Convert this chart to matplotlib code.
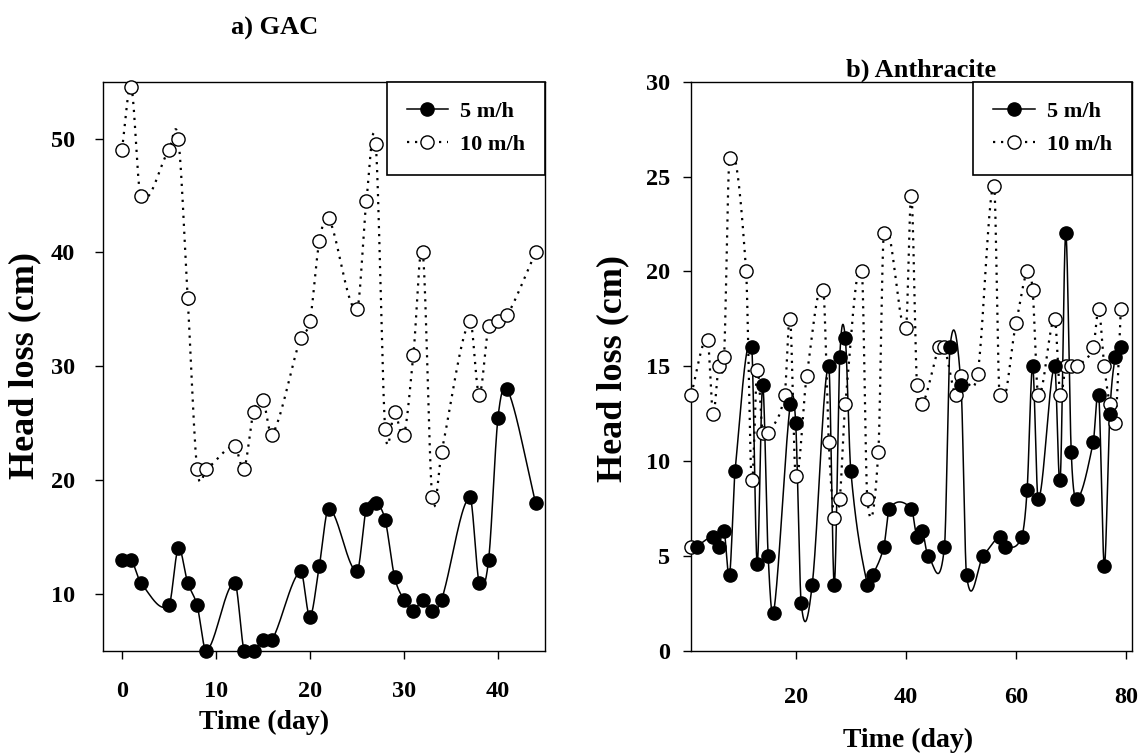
import numpy as np
import matplotlib
matplotlib.use('Agg')
import matplotlib.pyplot as plt
from matplotlib.lines import Line2D

# ---- data ----
# a) GAC
gac_day = [0, 1, 2, 5, 6, 7, 8, 9, 12, 13, 14, 15, 16, 19, 20, 21, 22, 25, 26, 27,
           28, 29, 30, 31, 32, 33, 34, 37, 38, 39, 40, 41, 44]
gac_5 = [13, 13, 11, 9, 14, 11, 9, 5, 11, 5, 5, 6, 6, 12, 8, 12.5, 17.5, 12, 17.5, 18,
         16.5, 11.5, 9.5, 8.5, 9.5, 8.5, 9.5, 18.5, 11, 13, 25.5, 28, 18]
gac_10 = [49, 54.5, 45, 49, 50, 36, 21, 21, 23, 21, 26, 27, 24, 32.5, 34, 41, 43, 35, 44.5, 49.5,
          24.5, 26, 24, 31, 40, 18.5, 22.5, 34, 27.5, 33.5, 34, 34.5, 40]

# b) Anthracite
anth_day_5 = [2, 5, 6, 7, 8, 9, 12, 13, 14, 15, 16, 19, 20, 21, 23, 26, 27, 28, 29, 30,
              33, 34, 36, 37, 41, 42, 43, 44, 47, 48, 50, 51, 54, 57, 58, 61, 62, 63, 64, 67,
              68, 69, 70, 71, 74, 75, 76, 77, 78, 79]
anth_5 = [5.5, 6, 5.5, 6.3, 4, 9.5, 16, 4.6, 14, 5, 2, 13, 12, 2.5, 3.5, 15, 3.5, 15.5, 16.5, 9.5,
          3.5, 4, 5.5, 7.5, 7.5, 6, 6.3, 5, 5.5, 16, 14, 4, 5, 6, 5.5, 6, 8.5, 15, 8, 15,
          9, 22, 10.5, 8, 11, 13.5, 4.5, 12.5, 15.5, 16]
anth_day_10 = [1, 4, 5, 6, 7, 8, 11, 12, 13, 14, 15, 18, 19, 20, 22, 25, 26, 27, 28, 29,
               32, 33, 35, 36, 40, 41, 42, 43, 46, 47, 49, 50, 53, 56, 57, 60, 62, 63, 64, 67,
               68, 69, 70, 71, 74, 75, 76, 77, 78, 79]
anth_10 = [13.5, 16.4, 12.5, 15, 15.5, 26, 20, 9, 14.8, 11.5, 11.5, 13.5, 17.5, 9.2, 14.5, 19, 11, 7, 8, 13,
           20, 8, 10.5, 22, 17, 24, 14, 13, 16, 16, 13.5, 14.5, 14.6, 24.5, 13.5, 17.3, 20, 19, 13.5, 17.5,
           13.5, 15, 15, 15, 16, 18, 15, 13, 12, 18]
anth_10_extra_day = [1]
anth_10_extra = [5.5]


def spline(x, y, per_seg=40):
    # cubic Hermite curve through the points (Catmull-Rom style tangents)
    x = np.asarray(x, float)
    y = np.asarray(y, float)
    m = np.empty_like(y)
    m[1:-1] = (y[2:] - y[:-2]) / (x[2:] - x[:-2])
    m[0] = (y[1] - y[0]) / (x[1] - x[0])
    m[-1] = (y[-1] - y[-2]) / (x[-1] - x[-2])
    xs, ys = [], []
    for i in range(len(x) - 1):
        h = x[i + 1] - x[i]
        t = np.linspace(0, 1, per_seg)
        h00 = 2 * t ** 3 - 3 * t ** 2 + 1
        h10 = t ** 3 - 2 * t ** 2 + t
        h01 = -2 * t ** 3 + 3 * t ** 2
        h11 = t ** 3 - t ** 2
        xs.append(x[i] + t * h)
        ys.append(h00 * y[i] + h10 * h * m[i] + h01 * y[i + 1] + h11 * h * m[i + 1])
    return np.concatenate(xs), np.concatenate(ys)


plt.rcParams['font.family'] = 'Liberation Serif'
plt.rcParams['font.weight'] = 'bold'

ms = 9.5
dot = (0, (1, 2.6))

fig = plt.figure(figsize=(11.45, 7.56), dpi=100)
ax1 = fig.add_axes([0.090, 0.139, 0.386, 0.753])
ax2 = fig.add_axes([0.6035, 0.139, 0.385, 0.753])


def draw(ax, x5, y5, x10, y10):
    xs, ys = spline(x5, y5)
    ax.plot(xs, ys, color='black', lw=1.1)
    xs, ys = spline(x10, y10)
    ax.plot(xs, ys, color='black', lw=1.6, linestyle=dot)
    ax.plot(x10, y10, 'o', ms=ms, mfc='white', mec='black', mew=1.0, clip_on=False, zorder=3)
    ax.plot(x5, y5, 'o', ms=ms, mfc='black', mec='black', mew=1.0, clip_on=False, zorder=4)
    handles = [Line2D([], [], color='black', lw=1.1, marker='o', ms=ms, mfc='black', mec='black'),
               Line2D([], [], color='black', lw=1.6, linestyle=dot, marker='o', ms=ms,
                      mfc='white', mec='black')]
    leg = ax.legend(handles, ['5 m/h', '10 m/h'], loc='upper right', borderaxespad=0,
                    fancybox=False, edgecolor='black', framealpha=1, fontsize=16,
                    handlelength=1.85, borderpad=0.9, labelspacing=0.55,
                    handletextpad=0.55)
    leg.get_frame().set_linewidth(1.2)
    leg.set_zorder(5)
    for s in ax.spines.values():
        s.set_linewidth(1.0)
    ax.tick_params(direction='out', length=6, width=1.0, labelsize=17.5, top=False, right=False)


draw(ax1, gac_day, gac_5, gac_day, gac_10)
ax1.set_xlim(-2, 45)
ax1.set_ylim(5, 55)
ax1.set_xticks([0, 10, 20, 30, 40])
ax1.set_yticks([10, 20, 30, 40, 50])
ax1.tick_params(axis='y', pad=14)
ax1.tick_params(axis='x', pad=16)

draw(ax2, anth_day_5, anth_5, anth_day_10, anth_10)
ax2.plot(anth_10_extra_day, anth_10_extra, 'o', ms=ms, mfc='white', mec='black', mew=1.0,
         clip_on=False, zorder=3)
ax2.set_xlim(1, 81)
ax2.set_ylim(0, 30)
ax2.set_xticks([20, 40, 60, 80])
ax2.set_yticks([0, 5, 10, 15, 20, 25, 30])
ax2.tick_params(axis='y', pad=9)
ax2.tick_params(axis='x', pad=20)

for lab in ax1.get_xticklabels() + ax1.get_yticklabels() + ax2.get_xticklabels() + ax2.get_yticklabels():
    lab.set_fontweight('bold')

fig.text(0.240, 0.963, 'a) GAC', ha='center', va='center', fontsize=19, fontweight='bold')
fig.text(0.804, 0.907, 'b) Anthracite', ha='center', va='center', fontsize=19, fontweight='bold')
fig.text(0.022, 0.517, 'Head loss (cm)', ha='center', va='center', rotation=90,
         fontsize=26, fontweight='bold')
fig.text(0.535, 0.513, 'Head loss (cm)', ha='center', va='center', rotation=90,
         fontsize=26, fontweight='bold')
fig.text(0.231, 0.045, 'Time (day)', ha='center', va='center', fontsize=20, fontweight='bold')
fig.text(0.793, 0.021, 'Time (day)', ha='center', va='center', fontsize=20, fontweight='bold')

fig.savefig('out.png', dpi=100)
